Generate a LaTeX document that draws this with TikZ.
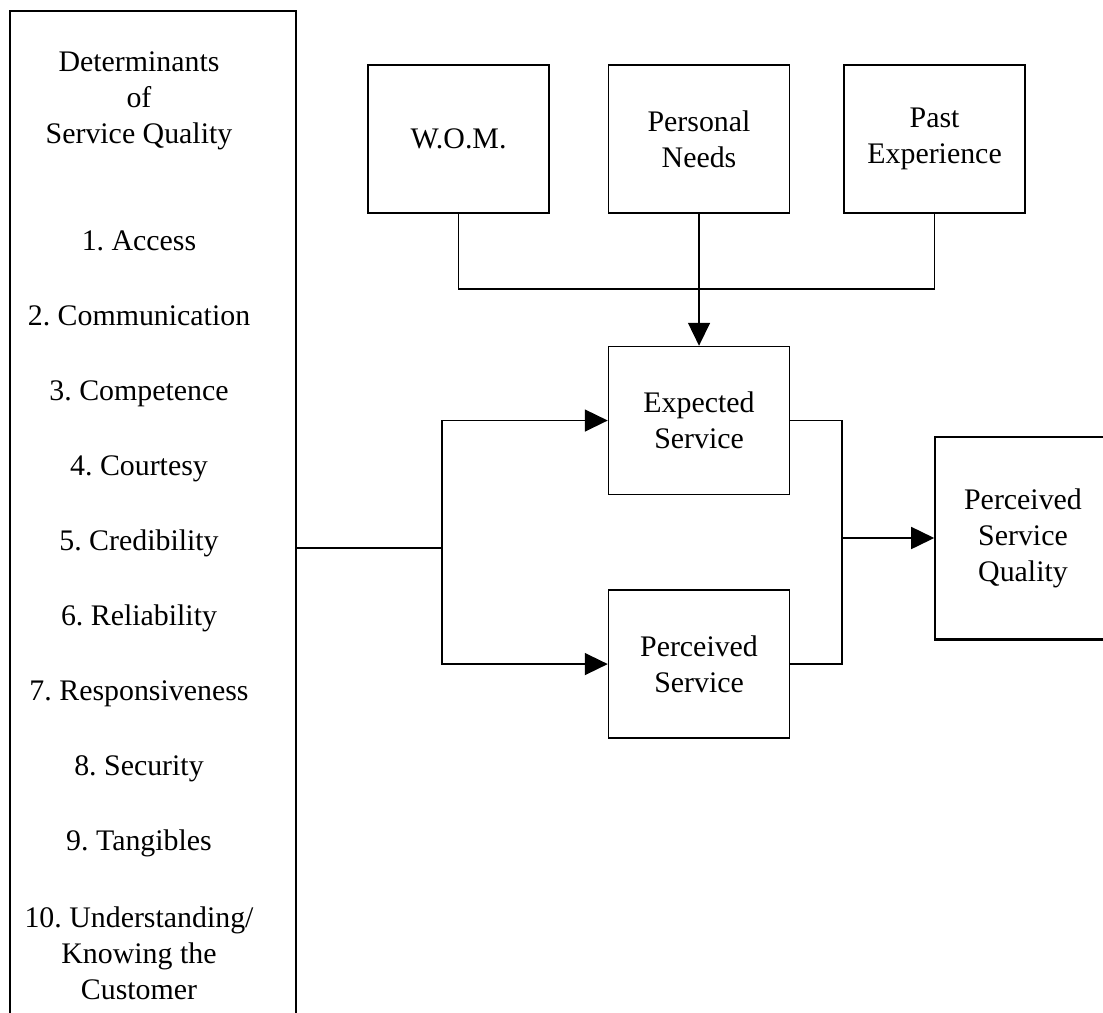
\documentclass[tikz,border=0pt]{standalone}
\usepackage{fontspec}
\setmainfont{Liberation Serif}
\usetikzlibrary{arrows.meta, positioning}
\tikzstyle{box} = [rectangle, draw=black, line width=0.9pt, minimum width=3.62cm, minimum height=2.96cm, text centered, align=center]
\tikzstyle{wire} = [line width=0.9pt]
\tikzstyle{flow} = [line width=0.9pt, -{Triangle[length=0.46cm, width=0.44cm]}]

\begin{document}
\begin{tikzpicture}[
    x=0.02cm, y=-0.02cm,
    every node/.style={font=\fontsize{17}{20.5}\selectfont}
]
\useasboundingbox (0,0) rectangle (1103,1012);
\clip (0,0) rectangle (1103,1012);

% determinants column
\node[draw, line width=0.9pt, minimum width=5.72cm, minimum height=21.52cm, anchor=north west, inner sep=0] (det) at (9,10) {};
\node[anchor=north, inner sep=0, align=center] (dethead) at (139,51) {Determinants\\of\\Service Quality};
\foreach \name [count=\i] in {Access, Communication, Competence, Courtesy, Credibility, Reliability, Responsiveness, Security, Tangibles}
    \node[anchor=base, inner sep=0] (item\i) at (139,{175+75*\i}) {\i.\ \name};
\node[anchor=north, inner sep=0, align=center] (item10) at (139,906) {10.\ Understanding/\\Knowing the\\Customer};

% expectations
\node[box] (wom) at (458.5,139) {W.O.M.};
\node[box, right=1.16cm of wom] (pn) {Personal\\Needs};
\node[box, right=1.06cm of pn] (pe) {Past\\Experience};
\node[box, below=2.64cm of pn] (es) {Expected\\Service};
\node[box, below=1.88cm of es] (ps) {Perceived\\Service};
\node[box, minimum width=3.52cm, minimum height=4.04cm] (psq) at (1023,538) {Perceived\\Service\\Quality};

% connectors
\draw[wire] (wom.south) -- ++(0,75) -| (pe.south);
\draw[flow] (pn.south) -- (es.north);
\coordinate (split) at (442,548);
\draw[wire] (det.east |- split) -- (split);
\draw[flow] (split) |- (es.west);
\draw[flow] (split) |- (ps.west);
\coordinate (join) at (842,538);
\draw[wire] (es.east) -| (join) |- (ps.east);
\draw[flow] (join) -- (psq.west);
\draw[line width=1.8pt] (psq.south west) -- (psq.south east);

\end{tikzpicture}
\end{document}
